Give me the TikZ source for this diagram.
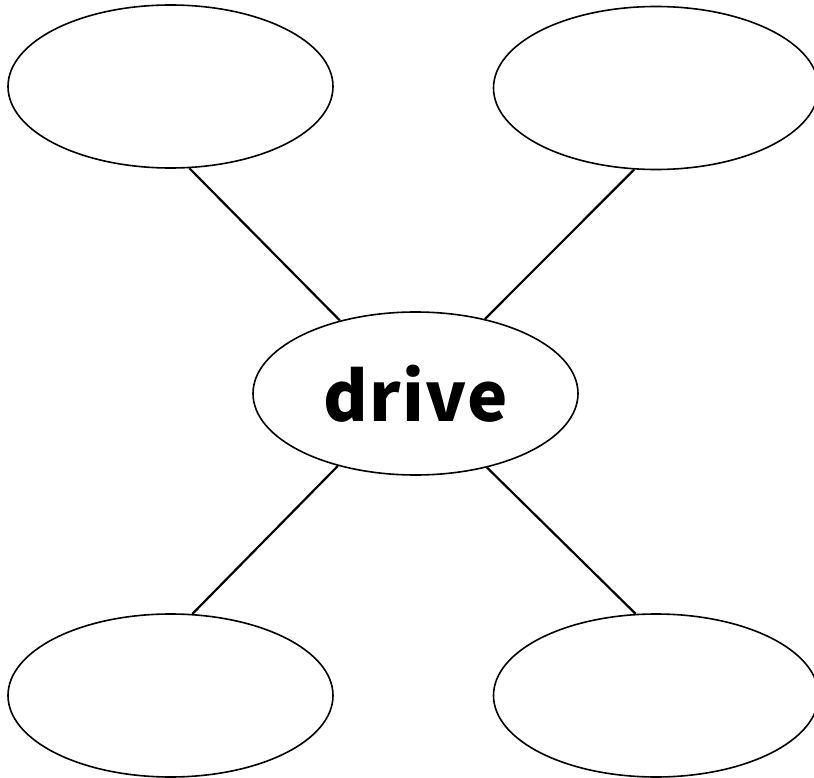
\documentclass[tikz,border=0pt]{standalone}
\usepackage{fontspec}
\newfontfamily\wordfont[LetterSpace=2]{Noto Sans CJK JP}
\usetikzlibrary{shapes.geometric}

\begin{document}
\begin{tikzpicture}[x=1pt,y=-1pt]
\tikzstyle{every node}=[ellipse, draw, line width=1.6pt, inner sep=0pt,
  minimum width=325pt, minimum height=163pt]
\tikzstyle{every edge}=[draw, line width=2.2pt]

\useasboundingbox (0,0) rectangle (814,778);

\node (D) at (415.5,393.5) {\wordfont\bfseries\fontsize{68}{80}\selectfont drive};
\node (TL) at (170.5,86.5) {};
\node (TR) at (656,88) {};
\node (BL) at (170.5,695.5) {};
\node (BR) at (656,695.5) {};

\draw (D.136) edge (TL.-77.5)
      (D.47) edge (TR.-105.7)
      (D.-137) edge (BL.75.5)
      (D.-46) edge (BR.104.8);
\end{tikzpicture}
\end{document}
